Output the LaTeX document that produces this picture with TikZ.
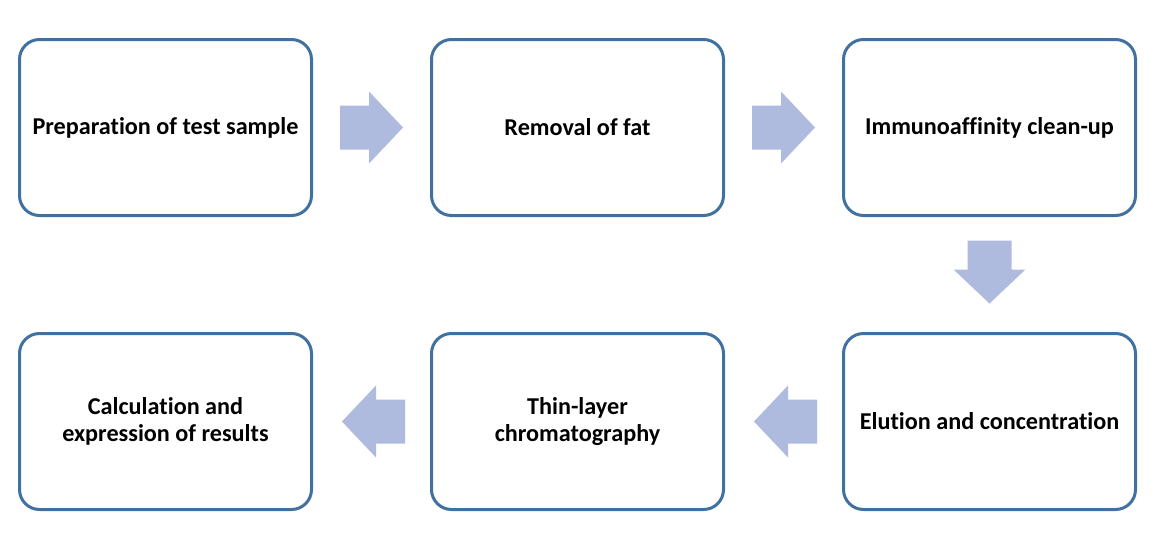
\documentclass[tikz,border=0pt]{standalone}
\usepackage{fontspec}
\setmainfont{Carlito}[Ligatures=NoCommon]
\usetikzlibrary{calc}
\definecolor{boxline}{RGB}{65,113,160}
\definecolor{arrowfill}{RGB}{174,187,222}
\tikzset{
  stepbox/.style={draw=boxline, line width=3pt, rounded corners=20pt, fill=white,
    minimum width=292pt, minimum height=176pt, align=center,
    font=\fontsize{24.2}{27}\selectfont\bfseries, inner sep=0pt},
  barrow/.pic={\fill[arrowfill] (-31.5,-22) -- (-2.5,-22) -- (-2.5,-36) -- (31.5,0) -- (-2.5,36) -- (-2.5,22) -- (-31.5,22) -- cycle;}
}
\begin{document}
\begin{tikzpicture}[x=1pt,y=1pt]
\useasboundingbox (0,0) rectangle (1160,-552);
\node[stepbox] (b1) at (165.5,-127.5) {Preparation of test sample};
\node[stepbox] (b2) at (577.5,-127.5) {Removal of fat};
\node[stepbox] (b3) at (989.5,-127.5) {Immunoaffinity clean-up};
\node[stepbox] (b4) at (989.5,-421.5) {Elution and concentration};
\node[stepbox] (b5) at (577.5,-421.5) {Thin-layer\\chromatography};
\node[stepbox] (b6) at (165.5,-421.5) {Calculation and\\expression of results};
\coordinate (m12) at ($(b1.east)!0.5!(b2.west)$);
\coordinate (m23) at ($(b2.east)!0.5!(b3.west)$);
\coordinate (m34) at ($(b3.south)!0.5!(b4.north)$);
\coordinate (m45) at ($(b4.west)!0.5!(b5.east)$);
\coordinate (m56) at ($(b5.west)!0.5!(b6.east)$);
\pic at (m12) {barrow};
\pic at (m23) {barrow};
\pic[rotate=-90] at ($(m34)+(0,2.5)$) {barrow};
\pic[rotate=180] at ($(m45)+(2,0)$) {barrow};
\pic[rotate=180] at ($(m56)+(2,0)$) {barrow};
\end{tikzpicture}
\end{document}
